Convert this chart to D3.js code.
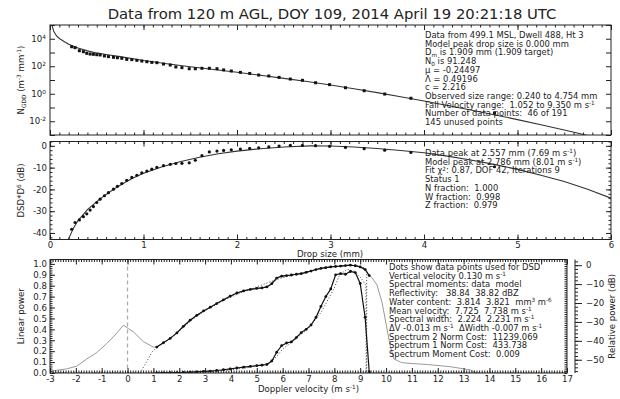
<!DOCTYPE html>
<html><head><meta charset="utf-8">
<script src="https://cdn.jsdelivr.net/npm/d3@7"></script>
<style>
body{margin:0;background:#fff}
svg text{font-family:"DejaVu Sans",sans-serif;fill:#222}
</style></head><body><div id="chart"></div>
<script>
// values
let titleText="Data from 120 m AGL, DOY 109, 2014 April 19 20:21:18 UTC";

// drop size distribution (top + middle panel dots)
let dropSize=[0.232,0.268,0.314,0.357,0.393,0.429,0.464,0.5,0.536,0.582,0.625,0.679,0.721,0.768,0.821,0.875,0.929,0.982,1.036,1.089,1.143,1.214,1.286,1.346,1.411,1.489,1.554,1.625,1.704,1.786,1.857,1.939,2.036,2.136,2.232,2.34,2.45,2.57,2.70,2.84,2.99,3.16,3.36,3.58,3.86,4.754];
let nObs=[2630,2239,1349,1148,871,776,741,692,661,562,501,447,417,380,316,302,269,240,214,191,182,145,123,89,79,66,66,71,71,66,54,45,36,30,23,19.5,15.5,11.7,9.5,6.3,4.6,2.75,1.66,0.95,0.47,0.04];
let dsdDb=[-38.3,-35.2,-34.0,-32.5,-31.2,-29.5,-27.9,-26.0,-24.5,-22.9,-21.5,-19.9,-18.6,-17.3,-15.8,-14.5,-13.5,-12.4,-11.6,-10.7,-9.9,-9.1,-8.5,-8.1,-8.0,-7.8,-6.6,-4.5,-2.8,-2.4,-2.1,-1.8,-1.5,-1.2,-0.9,-0.5,-0.1,0.2,0.2,0.1,-0.2,-0.7,-1.3,-2.0,-3.0,-9.6];

// model curves
let modelSize=[0.01,0.02,0.04,0.07,0.1,0.15,0.2,0.25,0.3,0.4,0.5,0.6,0.75,1.0,1.25,1.5,1.75,2.0,2.25,2.5,2.75,3.0,3.25,3.5,3.75,4.0,4.25,4.5,4.75,5.0,5.25,5.5,5.75,6.0];
let modelN=[398000,100000,35500,15850,10470,6310,3981,2818,2089,1318,933,724,501,263,151,91,57.5,36.3,21.9,13.2,7.76,4.37,2.29,1.20,0.603,0.295,0.141,0.066,0.030,0.0132,0.0056,0.00234,0.00093,0.00035];
let modelDbSize=[0.17,0.2,0.25,0.3,0.4,0.5,0.6,0.7,0.8,0.9,1.0,1.2,1.4,1.6,1.8,2.0,2.25,2.5,2.786,3.0,3.25,3.5,3.75,4.0,4.25,4.5,4.75,5.0,5.25,5.5,5.75,6.0];
let modelDb=[-46,-42.6,-37.8,-34.3,-29.3,-25.6,-22.3,-19.4,-16.8,-14.5,-12.6,-9.6,-7.2,-5.2,-3.6,-2.4,-1.3,-0.5,0,-0.1,-0.5,-1.2,-2.1,-3.2,-4.7,-6.5,-8.5,-10.8,-13.5,-16.4,-19.9,-24.0];

// Doppler spectrum (bottom panel)
let velDots=[1.13,1.39,1.65,1.91,2.16,2.42,2.68,2.94,3.2,3.45,3.71,3.97,4.23,4.49,4.75,5.0,5.2,5.39,5.58,5.77,5.96,6.15,6.34,6.53,6.72,6.91,7.1,7.29,7.48,7.67,7.86,8.05,8.24,8.43,8.62,8.81,9.0,9.19,9.35];
let relPowDots=[-43.3,-41.0,-38.7,-35.8,-32.3,-29.1,-26.5,-24.2,-22.2,-20.3,-18.3,-16.4,-14.7,-13.6,-12.8,-12.3,-12.0,-11.5,-9.8,-6.8,-5.8,-5.5,-5.2,-4.8,-4.5,-3.8,-3.1,-2.3,-1.7,-1.3,-0.9,-0.7,-0.5,-0.2,0.0,-0.3,-0.9,-2.3,-5.5];
let linPowDots=[0.002,0.002,0.003,0.004,0.005,0.008,0.011,0.014,0.018,0.023,0.03,0.038,0.046,0.053,0.06,0.067,0.072,0.078,0.11,0.19,0.25,0.275,0.285,0.325,0.37,0.40,0.44,0.51,0.61,0.70,0.77,0.90,0.91,0.905,0.93,0.92,0.82,0.51,0.01];
let specVelLeft=[-3,-2.35,-1.97,-1.58,-1.19,-0.81,-0.48,-0.16,0.03,0.22,0.61,1.0];
let specDbLeft=[-56.1,-54.8,-53.4,-49.6,-46.2,-41.5,-36.9,-31.7,-33.5,-35.2,-40.4,-43.3];
let specVelRight=[9.35,9.45,9.65,9.85,10.0,10.15,10.3,10.6,11.0,11.6,12.5,13.26,13.6];
let specDbRight=[-5.5,-6.5,-10.5,-20,-31,-42,-49.5,-51.5,-52,-52.5,-53.7,-55.4,-57.5];
let modUpVel=[0.48,0.7,0.94,1.2,1.6,2.0,2.5,3.0,3.5,4.0,4.5,5.0,5.5,6.0,6.5,7.0,7.5,8.0,8.5,8.9,9.2,9.25,9.25];
let modUpDb=[-57,-52,-46,-42.6,-39,-34.8,-28.8,-24,-20.2,-16.8,-14,-11.5,-8.9,-6.6,-5,-3.2,-1.8,-0.7,-0.1,-0.3,-1.6,-2.2,-60];
let modLowVel=[-3,2.0,3.0,4.0,4.5,5.0,5.5,5.8,6.0,6.5,7.0,7.5,8.0,8.2,8.5,8.8,9.1,9.22,9.23,17];
let modLowLin=[0,0,0.01,0.03,0.045,0.065,0.09,0.16,0.22,0.31,0.41,0.56,0.78,0.9,0.95,0.93,0.85,0.8,0,0];

let infoTop=["Data from 499.1 MSL, Dwell 488, Ht 3","Model peak drop size is 0.000 mm","D_{m} is 1.909 mm (1.909 target)","N_{0} is 91.248","μ = -0.24497","Λ = 0.49196","c = 2.216","Observed size range: 0.240 to 4.754 mm","Fall Velocity range:  1.052 to 9.350 m s^{-1}","Number of data points:  46 of 191","145 unused points"];
let infoMid=["Data peak at 2.557 mm (7.69 m s^{-1})","Model peak at 2.786 mm (8.01 m s^{-1})","Fit χ^{2}: 0.87, DOF 42, Iterations 9","Status 1","N fraction:  1.000","W fraction:  0.998","Z fraction:  0.979"];
let infoBot=["Dots show data points used for DSD","Vertical velocity 0.130 m s^{-1}","Spectral moments: data  model","Reflectivity:   38.84  38.82 dBZ","Water content:  3.814  3.821  mm^{3} m^{-6}","Mean velocity:  7.725  7.738 m s^{-1}","Spectral width:  2.224  2.231 m s^{-1}","ΔV -0.013 m s^{-1}  ΔWidth -0.007 m s^{-1}","Spectrum 2 Norm Cost:  11239.069","Spectrum 1 Norm Cost:  433.738","Spectrum Moment Cost:  0.009"];

let ink="#222";
let svg=d3.select("#chart").append("svg").attr("width",620).attr("height",399);

// text with ^{} and _{} pieces
function rich(t,str,fs){
    t.attr("xml:space","preserve").style("white-space","pre");
    let re=/([\^_])\{([^}]*)\}/g, last=0, m, shift=0;
    while((m=re.exec(str))){
        if(m.index>last){ t.append("tspan").attr("dy",-shift).text(str.slice(last,m.index)); shift=0; }
        let d=m[1]=="^" ? -fs*0.34 : fs*0.2;
        t.append("tspan").attr("dy",d-shift).attr("font-size",fs*0.68).text(m[2]);
        shift=d;
        last=re.lastIndex;
    }
    if(last<str.length) t.append("tspan").attr("dy",-shift).text(str.slice(last));
    return t;
}

function panel(x0,x1,y0,y1,id){
    svg.append("clipPath").attr("id",id).append("rect")
        .attr("x",x0).attr("y",y0).attr("width",x1-x0).attr("height",y1-y0);
    return svg.append("g").attr("clip-path","url(#"+id+")");
}
function frame(x0,x1,y0,y1){
    svg.append("rect").attr("x",x0).attr("y",y0).attr("width",x1-x0).attr("height",y1-y0)
        .attr("fill","none").attr("stroke",ink).attr("stroke-width",1);
}
// inward ticks drawn with d3 axes (negative size)
function ticks(axisFn,scale,vals,size,pos,fmt,fs){
    let ax=axisFn(scale).tickValues(vals).tickSize(-size).tickPadding(3)
        .tickFormat(fmt||"");
    let g=svg.append("g").attr("transform",pos).call(ax);
    g.select(".domain").remove();
    g.selectAll("line").attr("stroke",ink);
    g.selectAll("text").attr("font-size",fs||8.6).attr("fill",ink).style("font-family","DejaVu Sans");
    return g;
}
let rng=(a,b,s)=>d3.range(Math.round((b-a)/s)+1).map(i=>+(a+i*s).toFixed(4));

// ---------- title ----------
svg.append("text").attr("x",332).attr("y",19).attr("text-anchor","middle")
    .attr("font-size",14.8).text(titleText);

// ---------- top panel ----------
let T={x0:50,x1:611,y0:25,y1:135};
let xD=d3.scaleLinear([0,6],[T.x0,T.x1]);
let yN=d3.scaleLog([1e-3,1e5],[T.y1,T.y0]);
let gT=panel(T.x0,T.x1,T.y0,T.y1,"cT");
gT.append("path").attr("fill","none").attr("stroke","#333").attr("stroke-width",1.1)
    .attr("d",d3.line().x((d,i)=>xD(modelSize[i])).y(d=>yN(d))(modelN));
gT.selectAll("rect.dot").data(nObs).join("rect").attr("class","dot")
    .attr("x",(d,i)=>xD(dropSize[i])-1.5).attr("y",d=>yN(d)-1.5)
    .attr("width",3).attr("height",3).attr("fill","#111");
frame(T.x0,T.x1,T.y0,T.y1);
let decades=[1e-3,1e-2,1e-1,1,10,100,1e3,1e4,1e5];
ticks(d3.axisLeft,yN,decades,5,`translate(${T.x0},0)`);
ticks(d3.axisRight,yN,decades,5,`translate(${T.x1},0)`);
ticks(d3.axisBottom,xD,rng(0,6,1),5,`translate(0,${T.y1})`);
ticks(d3.axisBottom,xD,rng(0,6,0.1),2.5,`translate(0,${T.y1})`);
ticks(d3.axisTop,xD,rng(0,6,1),5,`translate(0,${T.y0})`);
ticks(d3.axisTop,xD,rng(0,6,0.1),2.5,`translate(0,${T.y0})`);
[4,2,0,-2].forEach(p=>{
    let t=svg.append("text").attr("x",46).attr("y",yN(Math.pow(10,p))+3).attr("text-anchor","end").attr("font-size",8.6);
    rich(t,"10^{"+p+"}",8.6);
});
rich(svg.append("text").attr("transform",`translate(24,${(T.y0+T.y1)/2}) rotate(-90)`)
    .attr("text-anchor","middle").attr("font-size",8.6),"N_{GDD} (m^{-3} mm^{-1})",8.6);
infoTop.forEach((s,i)=>rich(svg.append("text").attr("x",425).attr("y",38+i*8.7).attr("font-size",8.4),s,8.4));

// ---------- middle panel ----------
let M={x0:50,x1:611,y0:141.5,y1:239.5};
let yDb=d3.scaleLinear([-43,2],[M.y1,M.y0]);
let gM=panel(M.x0,M.x1,M.y0,M.y1,"cM");
gM.append("path").attr("fill","none").attr("stroke","#333").attr("stroke-width",1.1)
    .attr("d",d3.line().x((d,i)=>xD(modelDbSize[i])).y(d=>yDb(d))(modelDb));
gM.selectAll("circle").data(dsdDb).join("circle")
    .attr("cx",(d,i)=>xD(dropSize[i])).attr("cy",d=>yDb(d)).attr("r",1.6).attr("fill","#111");
frame(M.x0,M.x1,M.y0,M.y1);
ticks(d3.axisLeft,yDb,rng(-40,0,10),5,`translate(${M.x0},0)`,d=>d,8.6);
ticks(d3.axisLeft,yDb,rng(-42,2,2),2.5,`translate(${M.x0},0)`);
ticks(d3.axisRight,yDb,rng(-40,0,10),5,`translate(${M.x1},0)`);
ticks(d3.axisRight,yDb,rng(-42,2,2),2.5,`translate(${M.x1},0)`);
ticks(d3.axisBottom,xD,rng(0,6,1),5,`translate(0,${M.y1})`,d=>d,8.6).selectAll("text").attr("dy","0.6em");
ticks(d3.axisBottom,xD,rng(0,6,0.1),2.5,`translate(0,${M.y1})`);
ticks(d3.axisTop,xD,rng(0,6,1),5,`translate(0,${M.y0})`);
ticks(d3.axisTop,xD,rng(0,6,0.1),2.5,`translate(0,${M.y0})`);
rich(svg.append("text").attr("transform",`translate(24,${(M.y0+M.y1)/2}) rotate(-90)`)
    .attr("text-anchor","middle").attr("font-size",8.6),"DSD*D^{6} (dB)",8.6);
svg.append("text").attr("x",330).attr("y",257).attr("text-anchor","middle").attr("font-size",8.6).text("Drop size (mm)");
infoMid.forEach((s,i)=>rich(svg.append("text").attr("x",425).attr("y",156+i*8.7).attr("font-size",8.4),s,8.4));

// ---------- bottom panel ----------
let B={x0:50,x1:567,y0:259.5,y1:373};
let xV=d3.scaleLinear([-3,17],[B.x0,B.x1]);
let yLin=d3.scaleLinear([0,1.04],[B.y1,B.y0]);
let yRel=d3.scaleLinear([-57,3],[B.y1,B.y0]);
let gB=panel(B.x0,B.x1,B.y0,B.y1,"cB");
gB.append("line").attr("x1",xV(0)).attr("x2",xV(0)).attr("y1",B.y0).attr("y2",B.y1)
    .attr("stroke","#aaa").attr("stroke-width",1.2).attr("stroke-dasharray","4,3");
// observed spectrum (gray, dB)
let specV=specVelLeft.concat(velDots,specVelRight.slice(1));
let specD=specDbLeft.concat(relPowDots,specDbRight.slice(1));
gB.append("path").attr("fill","none").attr("stroke","#999").attr("stroke-width",1)
    .attr("d",d3.line().x((d,i)=>xV(specV[i])).y(d=>yRel(d))(specD));
// model curves (dotted)
gB.append("path").attr("fill","none").attr("stroke","#444").attr("stroke-width",1).attr("stroke-dasharray","1,2")
    .attr("d",d3.line().x((d,i)=>xV(modUpVel[i])).y(d=>yRel(d))(modUpDb));
gB.append("path").attr("fill","none").attr("stroke","#444").attr("stroke-width",1).attr("stroke-dasharray","1,2")
    .attr("d",d3.line().x((d,i)=>xV(modLowVel[i])).y(d=>yLin(d))(modLowLin));
// data used for DSD
gB.append("path").attr("fill","none").attr("stroke","#111").attr("stroke-width",1.2)
    .attr("d",d3.line().x((d,i)=>xV(velDots[i])).y(d=>yRel(d))(relPowDots));
gB.append("path").attr("fill","none").attr("stroke","#111").attr("stroke-width",1.2)
    .attr("d",d3.line().x((d,i)=>xV(velDots[i])).y(d=>yLin(d))(linPowDots));
gB.selectAll("circle.u").data(relPowDots).join("circle").attr("class","u")
    .attr("cx",(d,i)=>xV(velDots[i])).attr("cy",d=>yRel(d)).attr("r",1.4).attr("fill","#111");
gB.selectAll("circle.l").data(linPowDots).join("circle").attr("class","l")
    .attr("cx",(d,i)=>xV(velDots[i])).attr("cy",d=>yLin(d)).attr("r",1.4).attr("fill","#111");
frame(B.x0,B.x1,B.y0,B.y1);
ticks(d3.axisLeft,yLin,rng(0,1,0.1),5,`translate(${B.x0},0)`,d3.format(".1f"),8.6);
ticks(d3.axisLeft,yLin,rng(0,1.04,0.02),2.5,`translate(${B.x0},0)`);
ticks(d3.axisRight,yLin,rng(0,1.04,0.02),2.5,`translate(${B.x1},0)`);
ticks(d3.axisBottom,xV,rng(-3,17,1),5,`translate(0,${B.y1})`,d=>d,8.6).selectAll("text").attr("dy","0.7em");
ticks(d3.axisBottom,xV,rng(-3,17,0.1),2.5,`translate(0,${B.y1})`);
ticks(d3.axisTop,xV,rng(-3,17,1),5,`translate(0,${B.y0})`);
ticks(d3.axisTop,xV,rng(-3,17,0.1),2.5,`translate(0,${B.y0})`);
// relative power axis on the right
let rx=575;
svg.append("line").attr("x1",rx).attr("x2",rx).attr("y1",B.y0).attr("y2",B.y1).attr("stroke",ink);
let ra=svg.append("g").attr("transform",`translate(${rx},0)`)
    .call(d3.axisRight(yRel).tickValues(rng(-50,0,10)).tickSize(7).tickPadding(4));
ra.select(".domain").remove();
ra.selectAll("line").attr("stroke",ink);
ra.selectAll("text").attr("font-size",8.6).attr("fill",ink).style("font-family","DejaVu Sans");
let rm=svg.append("g").attr("transform",`translate(${rx},0)`)
    .call(d3.axisRight(yRel).tickValues(rng(-56,2,2)).tickSize(3).tickFormat(""));
rm.select(".domain").remove();
rm.selectAll("line").attr("stroke",ink);
svg.append("text").attr("transform",`translate(615,${(B.y0+B.y1)/2}) rotate(-90)`)
    .attr("text-anchor","middle").attr("font-size",8.6).text("Relative power (dB)");
svg.append("text").attr("transform",`translate(24,${(B.y0+B.y1)/2}) rotate(-90)`)
    .attr("text-anchor","middle").attr("font-size",8.6).text("Linear power");
rich(svg.append("text").attr("x",(B.x0+B.x1)/2).attr("y",392).attr("text-anchor","middle").attr("font-size",8.6),
    "Doppler velocity (m s^{-1})",8.6);
infoBot.forEach((s,i)=>rich(svg.append("text").attr("x",389).attr("y",270+i*8.7).attr("font-size",8.4),s,8.4));
</script></body></html>
